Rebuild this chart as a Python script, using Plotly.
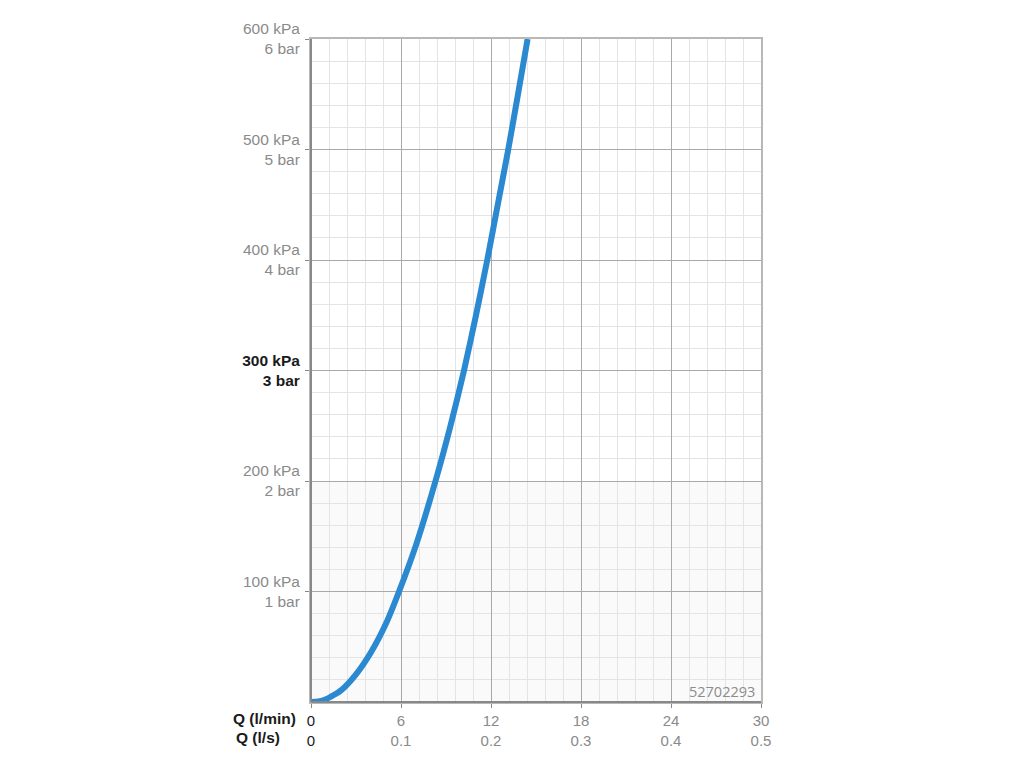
import plotly.graph_objects as go

# Flow (l/min) vs pressure (kPa)
flow_lpm = [0, 0.5, 1.0, 2.0, 3.0, 4.0, 5.0, 5.87, 7.0, 8.3, 9.3, 10.2, 11.0, 11.75, 12.45, 13.15, 13.8, 14.44]
pressure_kpa = [0, 0.5, 2.5, 10.5, 25, 45, 71, 100, 142, 200, 250, 300, 350, 400, 450, 500, 550, 600]

x_tick_vals = [0, 6, 12, 18, 24, 30]
x_tick_lpm = ["0", "6", "12", "18", "24", "30"]
x_tick_lps = ["0", "0.1", "0.2", "0.3", "0.4", "0.5"]

y_tick_vals = [100, 200, 300, 400, 500, 600]
y_tick_kpa = ["100 kPa", "200 kPa", "300 kPa", "400 kPa", "500 kPa", "600 kPa"]
y_tick_bar = ["1 bar", "2 bar", "3 bar", "4 bar", "5 bar", "6 bar"]

GRAY = "#8a8a8a"
DARK = "#1a1a1a"

x_text = []
for v, a, b in zip(x_tick_vals, x_tick_lpm, x_tick_lps):
    col = DARK if v == 0 else GRAY
    x_text.append(f"<span style='color:{col}'>{a}<br>{b}</span>")

y_text = []
for v, a, b in zip(y_tick_vals, y_tick_kpa, y_tick_bar):
    if v == 300:
        y_text.append(f"<span style='color:{DARK}'><b>{a}<br>{b}</b></span>")
    else:
        y_text.append(f"<span style='color:{GRAY}'>{a}<br>{b}</span>")

fig = go.Figure()
fig.add_trace(go.Scatter(
    x=flow_lpm, y=pressure_kpa, mode="lines",
    line=dict(color="#2a89d0", width=6, shape="spline", smoothing=0.6),
    hoverinfo="skip", showlegend=False, cliponaxis=True,
))

fig.update_layout(
    width=1024, height=768,
    margin=dict(l=303, r=271, t=28, b=74),
    paper_bgcolor="white", plot_bgcolor="white",
    font=dict(family="Liberation Sans, Arial, sans-serif", size=15, color=GRAY),
    xaxis=dict(
        range=[0, 30], tickvals=x_tick_vals, ticktext=x_text,
        showgrid=True, gridcolor="#a9a9a9", gridwidth=1,
        minor=dict(dtick=1.2, showgrid=True, gridcolor="#e4e4e4", gridwidth=1),
        showline=True, linecolor="#b8b8b8", linewidth=2, mirror=True,
        ticks="outside", ticklen=4, tickcolor="#888", zeroline=False,
        tickfont=dict(size=15), fixedrange=True,
    ),
    yaxis=dict(
        range=[0, 600], tickvals=y_tick_vals, ticktext=y_text,
        showgrid=True, gridcolor="#a9a9a9", gridwidth=1,
        minor=dict(dtick=20, showgrid=True, gridcolor="#e4e4e4", gridwidth=1),
        showline=True, linecolor="#b8b8b8", linewidth=2, mirror=True,
        ticks="outside", ticklen=4, tickcolor="#888", zeroline=False,
        tickfont=dict(size=15.5), fixedrange=True, ticklabelstandoff=2,
    ),
    shapes=[
        dict(type="rect", xref="x", yref="y", x0=0, x1=30, y0=0, y1=200,
             fillcolor="rgba(0,0,0,0.018)", line=dict(width=0), layer="below"),
        dict(type="line", xref="paper", yref="paper", x0=0, x1=0, y0=0, y1=1,
             line=dict(color="#888", width=2)),
        dict(type="line", xref="paper", yref="paper", x0=0, x1=1, y0=0, y1=0,
             line=dict(color="#888", width=2)),
    ],
    annotations=[
        dict(text="<b>Q (l/min)</b>", xref="paper", yref="paper",
             x=(231 - 311) / 450, y=-(719 - 702) / 666, xanchor="left", yanchor="middle",
             showarrow=False, font=dict(size=15.5, color=DARK)),
        dict(text="<b>Q (l/s)</b>", xref="paper", yref="paper",
             x=(234 - 311) / 450, y=-(738 - 702) / 666, xanchor="left", yanchor="middle",
             showarrow=False, font=dict(size=15.5, color=DARK)),
        dict(text="52702293", xref="paper", yref="paper",
             x=(757 - 311) / 450, y=(702 - 691) / 666, xanchor="right", yanchor="middle",
             showarrow=False, font=dict(size=14.5, color="#8c8c8c",
                                        family="Open Sans, DejaVu Sans, sans-serif")),
    ],
)

fig.write_html("out.html")
